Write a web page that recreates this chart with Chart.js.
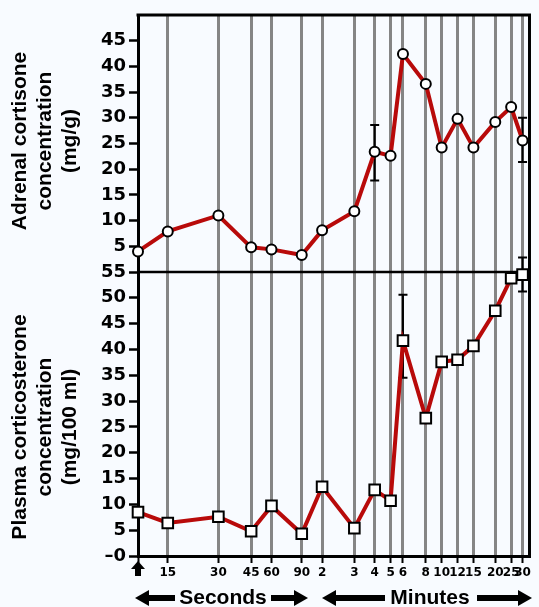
<!DOCTYPE html>
<html>
<head>
<meta charset="utf-8">
<script src="https://cdn.jsdelivr.net/npm/chart.js@4.4.1/dist/chart.umd.min.js"></script>
<style>
  html, body { margin: 0; padding: 0; background: #f8fbff; }
  #wrap { width: 539px; height: 607px; }
</style>
</head>
<body>
<div id="wrap"><canvas id="grafica"></canvas></div>
<script>
// tiempos (eje x) - 0 = inicio (flecha)
const xLabels = ["", "15", "30", "45", "60", "90", "2", "3", "4", "5", "6", "8", "10", "12", "15", "20", "25", "30"];
// espaciado del eje tal como esta dibujado en la figura (no es lineal)
const xSpacing = [0, 30, 81, 114, 134.5, 165, 185.5, 218, 238.5, 254.5, 267, 290, 306, 322, 338, 360, 376, 387.5];
const xEnd = 394.5;

// corticosterona adrenal (mg/g)
const adrenal = [4.0, 7.9, 11.0, 4.8, 4.4, 3.3, 8.1, 11.8, 23.4, 22.6, 42.4, 36.6, 24.2, 29.8, 24.2, 29.2, 32.1, 25.6];
const adrenalLow = [null, null, null, null, null, null, null, null, 17.8, null, null, null, null, null, null, null, null, 21.4];
const adrenalHigh = [null, null, null, null, null, null, null, null, 28.6, null, null, null, null, null, null, null, null, 30.0];

// corticosterona plasmatica (mg/100 ml)
const plasma = [8.5, 6.4, 7.6, 4.8, 9.7, 4.3, 13.4, 5.4, 12.8, 10.7, 41.7, 26.7, 37.6, 38.0, 40.7, 47.5, 53.8, 54.5];
const plasmaLow = [null, null, null, null, null, null, null, null, null, null, 34.5, null, null, null, null, null, null, 51.2];
const plasmaHigh = [null, null, null, null, null, null, null, null, null, null, 50.6, null, null, null, null, null, null, 57.8];

const tituloA = ["Adrenal cortisone", "concentration", "(mg/g)"];
const tituloP = ["Plasma corticosterone", "concentration", "(mg/100 ml)"];

const rojo = "#b80a0a";
const gris = "#858585";

function puntos(valores) {
  return valores.map((v, i) => ({ x: xSpacing[i], y: v }));
}

// fondo, marco, barras de error y rotulos
const extras = {
  id: "extras",
  beforeDraw(chart) {
    const ctx = chart.ctx;
    ctx.save();
    ctx.fillStyle = "#f8fbff";
    ctx.fillRect(0, 0, chart.width, chart.height);
    ctx.restore();
  },
  beforeDatasetsDraw(chart) {
    const ctx = chart.ctx;
    const a = chart.chartArea;
    const yP = chart.scales.yP;
    const x = chart.scales.x;
    ctx.save();
    ctx.strokeStyle = "black";
    ctx.lineWidth = 3;
    ctx.beginPath();
    ctx.moveTo(a.left - 1.5, a.top);
    ctx.lineTo(a.right, a.top);
    ctx.moveTo(a.right, a.top - 1.5);
    ctx.lineTo(a.right, a.bottom + 1.5);
    ctx.stroke();
    ctx.lineWidth = 2.5;
    ctx.beginPath();
    ctx.moveTo(a.left, yP.top);
    ctx.lineTo(a.right, yP.top);
    ctx.stroke();

    // barras de error
    ctx.lineWidth = 2;
    const barras = [[adrenalLow, adrenalHigh, chart.scales.yA], [plasmaLow, plasmaHigh, yP]];
    barras.forEach(([low, high, escala]) => {
      low.forEach((lo, i) => {
        if (lo === null) return;
        const px = x.getPixelForValue(xSpacing[i]);
        const y1 = escala.getPixelForValue(lo);
        const y2 = escala.getPixelForValue(high[i]);
        ctx.beginPath();
        ctx.moveTo(px, y1);
        ctx.lineTo(px, y2);
        ctx.moveTo(px - 4.5, y1);
        ctx.lineTo(px + 4.5, y1);
        ctx.moveTo(px - 4.5, y2);
        ctx.lineTo(px + 4.5, y2);
        ctx.stroke();
      });
    });
    ctx.restore();
  },
  afterDraw(chart) {
    const ctx = chart.ctx;
    const x = chart.scales.x;
    ctx.save();
    ctx.fillStyle = "black";

    // titulos de los ejes y
    ctx.font = "bold 21px 'Liberation Sans', Arial, sans-serif";
    ctx.textAlign = "center";
    ctx.textBaseline = "middle";
    [[tituloA, 141], [tituloP, 427]].forEach(([lineas, yc]) => {
      ctx.save();
      ctx.translate(0, yc);
      ctx.rotate(-Math.PI / 2);
      lineas.forEach((t, i) => ctx.fillText(t, 0, 20 + i * 25));
      ctx.restore();
    });

    // flecha hacia arriba en el tiempo 0
    const x0 = x.getPixelForValue(0);
    ctx.beginPath();
    ctx.moveTo(x0, 561);
    ctx.lineTo(x0 + 7, 569);
    ctx.lineTo(x0 + 3, 569);
    ctx.lineTo(x0 + 3, 576);
    ctx.lineTo(x0 - 3, 576);
    ctx.lineTo(x0 - 3, 569);
    ctx.lineTo(x0 - 7, 569);
    ctx.closePath();
    ctx.fill();

    function flecha(x1, x2, y, punta) {
      const h = punta === "izq" ? x1 : x2;
      const dir = punta === "izq" ? 1 : -1;
      ctx.beginPath();
      ctx.moveTo(h, y);
      ctx.lineTo(h + dir * 14, y - 8);
      ctx.lineTo(h + dir * 14, y - 3);
      ctx.lineTo(punta === "izq" ? x2 : x1, y - 3);
      ctx.lineTo(punta === "izq" ? x2 : x1, y + 3);
      ctx.lineTo(h + dir * 14, y + 3);
      ctx.lineTo(h + dir * 14, y + 8);
      ctx.closePath();
      ctx.fill();
    }
    const yF = 598;
    flecha(135, 175, yF, "izq");
    flecha(271, 308, yF, "der");
    flecha(322, 385, yF, "izq");
    flecha(477, 532, yF, "der");
    ctx.fillText("Seconds", 223, yF);
    ctx.fillText("Minutes", 430, yF);
    ctx.restore();
  }
};

const fuenteTicks = { family: "'DejaVu Sans', sans-serif", weight: "bold", size: 18 };

const ctx = document.getElementById("grafica");
new Chart(ctx, {
  type: "line",
  data: {
    datasets: [
      {
        label: "Adrenal",
        data: puntos(adrenal),
        yAxisID: "yA",
        borderColor: rojo,
        borderWidth: 4,
        pointStyle: "circle",
        pointRadius: 5,
        pointBorderWidth: 2,
        pointBackgroundColor: "white",
        pointBorderColor: "black",
        clip: false,
      },
      {
        label: "Plasma",
        data: puntos(plasma),
        yAxisID: "yP",
        borderColor: rojo,
        borderWidth: 4,
        pointStyle: "rect",
        pointRadius: 7.5,
        pointBorderWidth: 2,
        pointBackgroundColor: "white",
        pointBorderColor: "black",
        clip: false,
      },
    ],
  },
  options: {
    responsive: true,
    maintainAspectRatio: false,
    animation: false,
    layout: { padding: { top: 15, right: 6.5, left: 0, bottom: 0 } },
    plugins: { legend: { display: false }, tooltip: { enabled: false } },
    scales: {
      x: {
        type: "linear",
        min: 0,
        max: xEnd,
        afterBuildTicks: (scale) => {
          scale.ticks = xSpacing.map((v) => ({ value: v }));
        },
        afterFit: (scale) => { scale.height = 51; },
        ticks: {
          autoSkip: false,
          maxRotation: 0,
          padding: 3,
          color: "black",
          font: { family: "'DejaVu Sans', sans-serif", weight: "bold", size: 12 },
          callback: (value, index) => xLabels[index],
        },
        grid: {
          color: gris,
          lineWidth: 3,
          tickColor: "black",
          tickLength: 7,
          tickWidth: 2,
        },
        border: { display: true, color: "black", width: 3 },
      },
      yP: {
        type: "linear",
        position: "left",
        stack: "paneles",
        stackWeight: 284,
        min: 0,
        max: 55,
        afterFit: (scale) => { scale.width = 138; },
        ticks: {
          stepSize: 5,
          autoSkip: false,
          padding: 3,
          color: "black",
          font: fuenteTicks,
          callback: (v) => (v === 0 ? "\u20130" : v),
        },
        grid: {
          drawOnChartArea: false,
          tickLength: 9,
          tickWidth: 2.5,
          tickColor: "black",
        },
        border: { display: true, color: "black", width: 3 },
      },
      yA: {
        type: "linear",
        position: "left",
        stack: "paneles",
        stackWeight: 257,
        min: 0,
        max: 50,
        afterFit: (scale) => { scale.width = 138; },
        ticks: {
          stepSize: 5,
          autoSkip: false,
          padding: 3,
          color: "black",
          font: fuenteTicks,
          callback: (v) => (v === 0 || v === 50 ? "" : v),
        },
        grid: {
          drawOnChartArea: false,
          tickLength: 9,
          tickWidth: 2.5,
          tickColor: (c) => (c.tick && (c.tick.value === 0 || c.tick.value === 50) ? "rgba(0,0,0,0)" : "black"),
        },
        border: { display: true, color: "black", width: 3 },
      },
    },
  },
  plugins: [extras],
});
</script>
</body>
</html>
